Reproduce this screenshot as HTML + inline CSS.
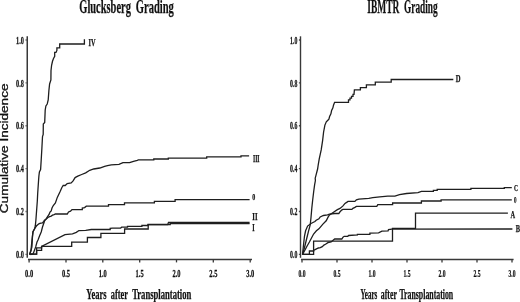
<!DOCTYPE html>
<html><head><meta charset="utf-8"><style>
html,body{margin:0;padding:0;background:#fff;}
body{width:520px;height:302px;overflow:hidden;font-family:"Liberation Serif",serif;}
svg{display:block;filter:grayscale(1);}
</style></head><body>
<svg width="520" height="302" viewBox="0 0 520 302">
<rect width="520" height="302" fill="#fff"/>
<g fill="none" stroke="#1e1e1e" stroke-width="1.3" stroke-linejoin="miter">
<polyline points="29.5,254.5 30.8,251.2 31.9,247.0 32.5,236.0 33.0,231.5 34.6,229.0 35.3,226.0 35.9,220.0 36.6,210.5 37.3,201.2 37.7,193.2 38.6,180.0 38.9,176.0 39.4,172.0 40.6,169.5 41.2,160.0 41.9,148.0 42.5,136.5 43.2,134.4 43.3,124.0 44.7,122.5 45.2,110.0 45.9,106.0 47.2,104.0 48.2,100.0 48.9,90.5 49.6,84.0 50.9,80.0 51.0,70.6 51.6,65.3 52.5,61.3 53.5,58.5 54.7,56.4 54.7,52.4 56.0,52.4 56.9,50.4 56.9,47.9 59.7,47.9 59.7,44.0 84.4,44.0 84.4,39.2"/><polyline points="29.5,254.5 31.0,250.0 32.0,240.0 33.0,232.0 34.6,228.5 36.6,225.8 38.0,224.5 39.2,223.7 40.9,223.2 42.5,222.8 43.8,221.6 44.2,220.4 46.3,219.1 47.9,217.5 49.6,216.6 51.2,216.1 52.5,215.2 54.1,214.6 55.4,214.0 57.1,214.0 67.3,214.0 68.5,212.0 70.5,211.2 72.0,209.6 82.3,209.6 82.3,208.0 84.6,207.6 86.3,206.2 108.5,206.2 108.5,204.6 124.5,204.6 124.5,202.8 154.4,202.8 154.4,201.4 175.1,201.4 175.1,199.6 249.6,199.6"/><polyline points="30.5,254.5 33.0,254.0 34.1,251.2 35.7,246.9 37.0,242.0 38.0,240.0 39.5,236.0 41.2,232.0 42.5,227.0 43.8,223.2 44.6,220.8 46.3,218.7 47.9,216.2 49.2,214.2 50.0,212.1 51.2,210.9 52.0,208.0 53.3,205.5 55.4,203.0 57.3,197.4 59.9,192.1 61.9,187.5 63.2,185.5 65.2,185.5 67.2,183.5 71.2,182.9 73.1,180.9 75.1,177.6 77.8,176.2 81.7,174.5 85.7,172.9 89.7,170.3 93.7,169.0 99.8,168.0 104.6,166.3 107.5,165.6 111.3,164.9 119.0,164.4 122.9,162.7 129.6,162.7 133.5,161.3 137.3,160.3 138.3,159.9 153.8,159.9 153.8,159.0 168.3,159.0 168.3,158.1 206.7,158.1 206.7,156.8 241.0,156.8 241.0,155.9 249.1,155.9"/><polyline points="29.5,254.2 36.6,254.2 36.6,247.9 41.6,247.9 41.6,246.4 65.0,234.7 72.5,233.8 76.3,232.4 78.3,231.0 78.8,230.7 85.7,230.3 91.3,229.5 110.2,229.5 110.2,228.4 112.5,228.1 120.6,228.1 121.7,227.2 127.5,227.2 127.5,226.3 141.9,226.3 141.9,225.5 148.0,225.5 148.0,224.5 167.7,224.5 168.5,222.5 249.6,222.5"/><polyline points="29.5,254.2 36.6,254.2 36.6,250.3 41.6,250.3 41.6,246.3 71.7,246.3 71.7,242.2 87.4,242.2 87.4,237.5 100.9,237.5 100.9,233.4 124.6,233.4 124.6,229.0 148.2,229.0 148.2,224.6 170.2,224.6 170.2,223.6 249.6,223.6"/>
<polyline points="302.5,254.5 304.4,248.0 306.7,238.5 308.6,230.8 310.2,225.0 311.0,217.5 311.8,208.2 312.6,200.8 313.7,191.5 314.6,184.9 315.4,180.5 315.2,178.2 315.9,175.6 317.6,169.0 318.2,165.0 319.2,159.1 321.2,149.9 322.6,140.6 323.6,132.0 324.9,125.1 326.3,121.8 327.6,120.5 328.9,119.2 329.6,116.5 330.9,113.9 331.6,110.5 332.9,107.9 333.5,105.2 334.6,102.3 348.5,102.3 348.5,99.9 350.0,99.9 350.0,98.1 351.5,98.1 351.5,96.4 353.0,96.4 353.0,94.4 354.0,94.4 354.4,89.9 360.4,89.9 360.4,87.7 366.4,87.7 366.4,84.9 375.3,84.9 375.3,82.2 391.2,82.2 391.2,79.5 453.3,79.5"/><polyline points="302.5,254.5 305.0,250.0 307.1,246.0 309.4,242.0 311.5,238.0 313.6,234.0 316.4,230.8 318.9,228.8 322.9,224.1 326.2,220.8 328.2,216.9 329.5,214.9 333.5,212.2 337.4,209.6 340.0,208.4 343.0,205.9 345.0,203.4 347.0,202.1 348.0,201.4 354.9,201.4 356.4,199.9 358.9,199.1 368.8,198.4 372.8,197.7 379.8,196.9 387.7,196.2 394.9,196.2 399.5,194.7 406.5,193.5 418.0,192.7 421.4,191.4 433.4,191.4 433.4,190.4 437.2,190.4 437.2,189.3 470.9,189.3 470.9,188.4 504.3,188.4 504.3,187.6 511.8,187.6"/><polyline points="302.5,254.5 303.5,245.0 304.5,236.0 305.6,230.8 307.6,226.1 311.0,223.5 314.9,221.5 316.2,220.2 318.9,218.8 320.2,216.9 323.5,215.5 327.5,214.9 329.5,214.2 334.8,213.5 338.8,213.5 340.0,211.8 342.0,209.9 343.0,209.4 351.9,209.4 352.9,208.4 354.9,207.4 356.4,206.4 376.8,206.4 377.8,204.7 392.6,204.5 392.6,203.0 421.4,203.0 421.4,201.0 441.1,201.0 441.1,199.8 511.8,199.8"/><polyline points="302.5,254.4 313.6,254.4 313.6,241.1 392.5,241.1 392.5,228.4 415.5,228.4 415.5,213.2 507.9,213.2"/><polyline points="302.5,254.4 309.4,254.4 309.4,251.0 313.6,251.0 313.6,250.3 316.0,249.1 318.4,248.0 320.3,247.7 322.3,246.7 323.9,245.1 325.5,244.3 327.9,242.7 331.1,241.9 333.1,240.3 334.7,239.0 341.8,239.0 343.0,237.1 344.2,236.3 347.8,236.3 348.6,235.5 357.4,235.0 357.4,234.3 369.9,234.3 369.9,233.1 378.6,232.8 381.9,231.2 388.1,230.8 388.5,229.6 391.9,229.2 512.4,229.0"/>
</g>
<g stroke="#383838" stroke-width="1.3" fill="none">
<line x1="27.25" y1="36.3" x2="27.25" y2="257.7" stroke-width="1.5"/>
<line x1="28" y1="259.5" x2="252" y2="259.5"/>
<line x1="300.5" y1="36.3" x2="300.5" y2="257.8" stroke-width="1.4"/>
<line x1="301" y1="259.5" x2="513.6" y2="259.5"/>
<line x1="25.60" y1="40.00" x2="26.60" y2="40.00"/><line x1="25.60" y1="82.88" x2="26.60" y2="82.88"/><line x1="25.60" y1="125.76" x2="26.60" y2="125.76"/><line x1="25.60" y1="168.64" x2="26.60" y2="168.64"/><line x1="25.60" y1="211.52" x2="26.60" y2="211.52"/><line x1="25.60" y1="254.40" x2="26.60" y2="254.40"/><line x1="298.90" y1="40.00" x2="299.90" y2="40.00"/><line x1="298.90" y1="82.88" x2="299.90" y2="82.88"/><line x1="298.90" y1="125.76" x2="299.90" y2="125.76"/><line x1="298.90" y1="168.64" x2="299.90" y2="168.64"/><line x1="298.90" y1="211.52" x2="299.90" y2="211.52"/><line x1="298.90" y1="254.40" x2="299.90" y2="254.40"/>
<line x1="29.1" y1="259.4" x2="29.1" y2="262.4"/><line x1="66.0" y1="259.4" x2="66.0" y2="262.4"/><line x1="102.8" y1="259.4" x2="102.8" y2="262.4"/><line x1="139.7" y1="259.4" x2="139.7" y2="262.4"/><line x1="176.5" y1="259.4" x2="176.5" y2="262.4"/><line x1="213.3" y1="259.4" x2="213.3" y2="262.4"/><line x1="250.2" y1="259.4" x2="250.2" y2="262.4"/><line x1="302.0" y1="259.4" x2="302.0" y2="262.4"/><line x1="337.0" y1="259.4" x2="337.0" y2="262.4"/><line x1="372.0" y1="259.4" x2="372.0" y2="262.4"/><line x1="407.0" y1="259.4" x2="407.0" y2="262.4"/><line x1="442.0" y1="259.4" x2="442.0" y2="262.4"/><line x1="477.0" y1="259.4" x2="477.0" y2="262.4"/><line x1="512.0" y1="259.4" x2="512.0" y2="262.4"/>
</g>
<g font-family="Liberation Serif" font-weight="bold" fill="#111" stroke="#111" stroke-width="0.25">
<text transform="translate(23.90,43.70) scale(0.600,1)" text-anchor="end" font-size="10.4">1.0</text><text transform="translate(23.90,86.58) scale(0.600,1)" text-anchor="end" font-size="10.4">0.8</text><text transform="translate(23.90,129.46) scale(0.600,1)" text-anchor="end" font-size="10.4">0.6</text><text transform="translate(23.90,172.34) scale(0.600,1)" text-anchor="end" font-size="10.4">0.4</text><text transform="translate(23.90,215.22) scale(0.600,1)" text-anchor="end" font-size="10.4">0.2</text><text transform="translate(23.90,258.10) scale(0.600,1)" text-anchor="end" font-size="10.4">0.0</text><text transform="translate(297.30,43.70) scale(0.560,1)" text-anchor="end" font-size="10.4">1.0</text><text transform="translate(297.30,86.58) scale(0.560,1)" text-anchor="end" font-size="10.4">0.8</text><text transform="translate(297.30,129.46) scale(0.560,1)" text-anchor="end" font-size="10.4">0.6</text><text transform="translate(297.30,172.34) scale(0.560,1)" text-anchor="end" font-size="10.4">0.4</text><text transform="translate(297.30,215.22) scale(0.560,1)" text-anchor="end" font-size="10.4">0.2</text><text transform="translate(297.30,258.10) scale(0.560,1)" text-anchor="end" font-size="10.4">0.0</text><text transform="translate(29.10,277.10) scale(0.620,1)" text-anchor="middle" font-size="10.4">0.0</text><text transform="translate(65.95,277.10) scale(0.620,1)" text-anchor="middle" font-size="10.4">0.5</text><text transform="translate(102.80,277.10) scale(0.620,1)" text-anchor="middle" font-size="10.4">1.0</text><text transform="translate(139.65,277.10) scale(0.620,1)" text-anchor="middle" font-size="10.4">1.5</text><text transform="translate(176.50,277.10) scale(0.620,1)" text-anchor="middle" font-size="10.4">2.0</text><text transform="translate(213.35,277.10) scale(0.620,1)" text-anchor="middle" font-size="10.4">2.5</text><text transform="translate(250.20,277.10) scale(0.620,1)" text-anchor="middle" font-size="10.4">3.0</text><text transform="translate(302.00,277.10) scale(0.540,1)" text-anchor="middle" font-size="10.4">0.0</text><text transform="translate(337.00,277.10) scale(0.540,1)" text-anchor="middle" font-size="10.4">0.5</text><text transform="translate(372.00,277.10) scale(0.540,1)" text-anchor="middle" font-size="10.4">1.0</text><text transform="translate(407.00,277.10) scale(0.540,1)" text-anchor="middle" font-size="10.4">1.5</text><text transform="translate(442.00,277.10) scale(0.540,1)" text-anchor="middle" font-size="10.4">2.0</text><text transform="translate(477.00,277.10) scale(0.540,1)" text-anchor="middle" font-size="10.4">2.5</text><text transform="translate(512.00,277.10) scale(0.540,1)" text-anchor="middle" font-size="10.4">3.0</text>
<text x="79.32" y="12.8" font-size="18" textLength="51.56" lengthAdjust="spacingAndGlyphs">Glucksberg</text><text x="135.78" y="12.8" font-size="18" textLength="38.1" lengthAdjust="spacingAndGlyphs">Grading</text><text x="367.22" y="12.8" font-size="18" textLength="32.06" lengthAdjust="spacingAndGlyphs">IBMTR</text><text x="404.06" y="12.8" font-size="18" textLength="33.56" lengthAdjust="spacingAndGlyphs">Grading</text><text x="86.28" y="298.6" font-size="13.8" textLength="20.28" lengthAdjust="spacingAndGlyphs">Years</text><text x="110.78" y="298.6" font-size="13.8" textLength="17.22" lengthAdjust="spacingAndGlyphs">after</text><text x="132.16" y="298.6" font-size="13.8" textLength="59.18" lengthAdjust="spacingAndGlyphs">Transplantation</text><text x="360.54" y="298.6" font-size="13.8" textLength="16.8" lengthAdjust="spacingAndGlyphs">Years</text><text x="380.78" y="298.6" font-size="13.8" textLength="16.1" lengthAdjust="spacingAndGlyphs">after</text><text x="399.44" y="298.6" font-size="13.8" textLength="53.78" lengthAdjust="spacingAndGlyphs">Transplantation</text>
<text x="88.5" y="45.9" font-size="10.5" textLength="7" lengthAdjust="spacingAndGlyphs">IV</text>
<text x="252.9" y="162.2" font-size="10.5" textLength="6.7" lengthAdjust="spacingAndGlyphs">III</text>
<text x="252.2" y="200.3" font-size="9" textLength="3" lengthAdjust="spacingAndGlyphs">0</text>
<text x="252.3" y="219.8" font-size="10.5" textLength="5.2" lengthAdjust="spacingAndGlyphs">II</text>
<text x="252.2" y="231" font-size="10.5" textLength="2.4" lengthAdjust="spacingAndGlyphs">I</text>
<text x="455.8" y="82.3" font-size="10.5" textLength="4.8" lengthAdjust="spacingAndGlyphs">D</text>
<text x="514" y="190.6" font-size="9" textLength="4" lengthAdjust="spacingAndGlyphs">C</text>
<text x="514.1" y="202.9" font-size="9" textLength="2.5" lengthAdjust="spacingAndGlyphs">0</text>
<text x="510.5" y="217.7" font-size="10" textLength="4.6" lengthAdjust="spacingAndGlyphs">A</text>
<text x="515.8" y="231.7" font-size="10" textLength="4.3" lengthAdjust="spacingAndGlyphs">B</text>
</g>
<text transform="translate(7.7,213.2) rotate(-90)" font-family="Liberation Sans" font-size="10" fill="#111" stroke="#111" stroke-width="0.3" textLength="129.7" lengthAdjust="spacingAndGlyphs">Cumulative Incidence</text>
</svg>
</body></html>
